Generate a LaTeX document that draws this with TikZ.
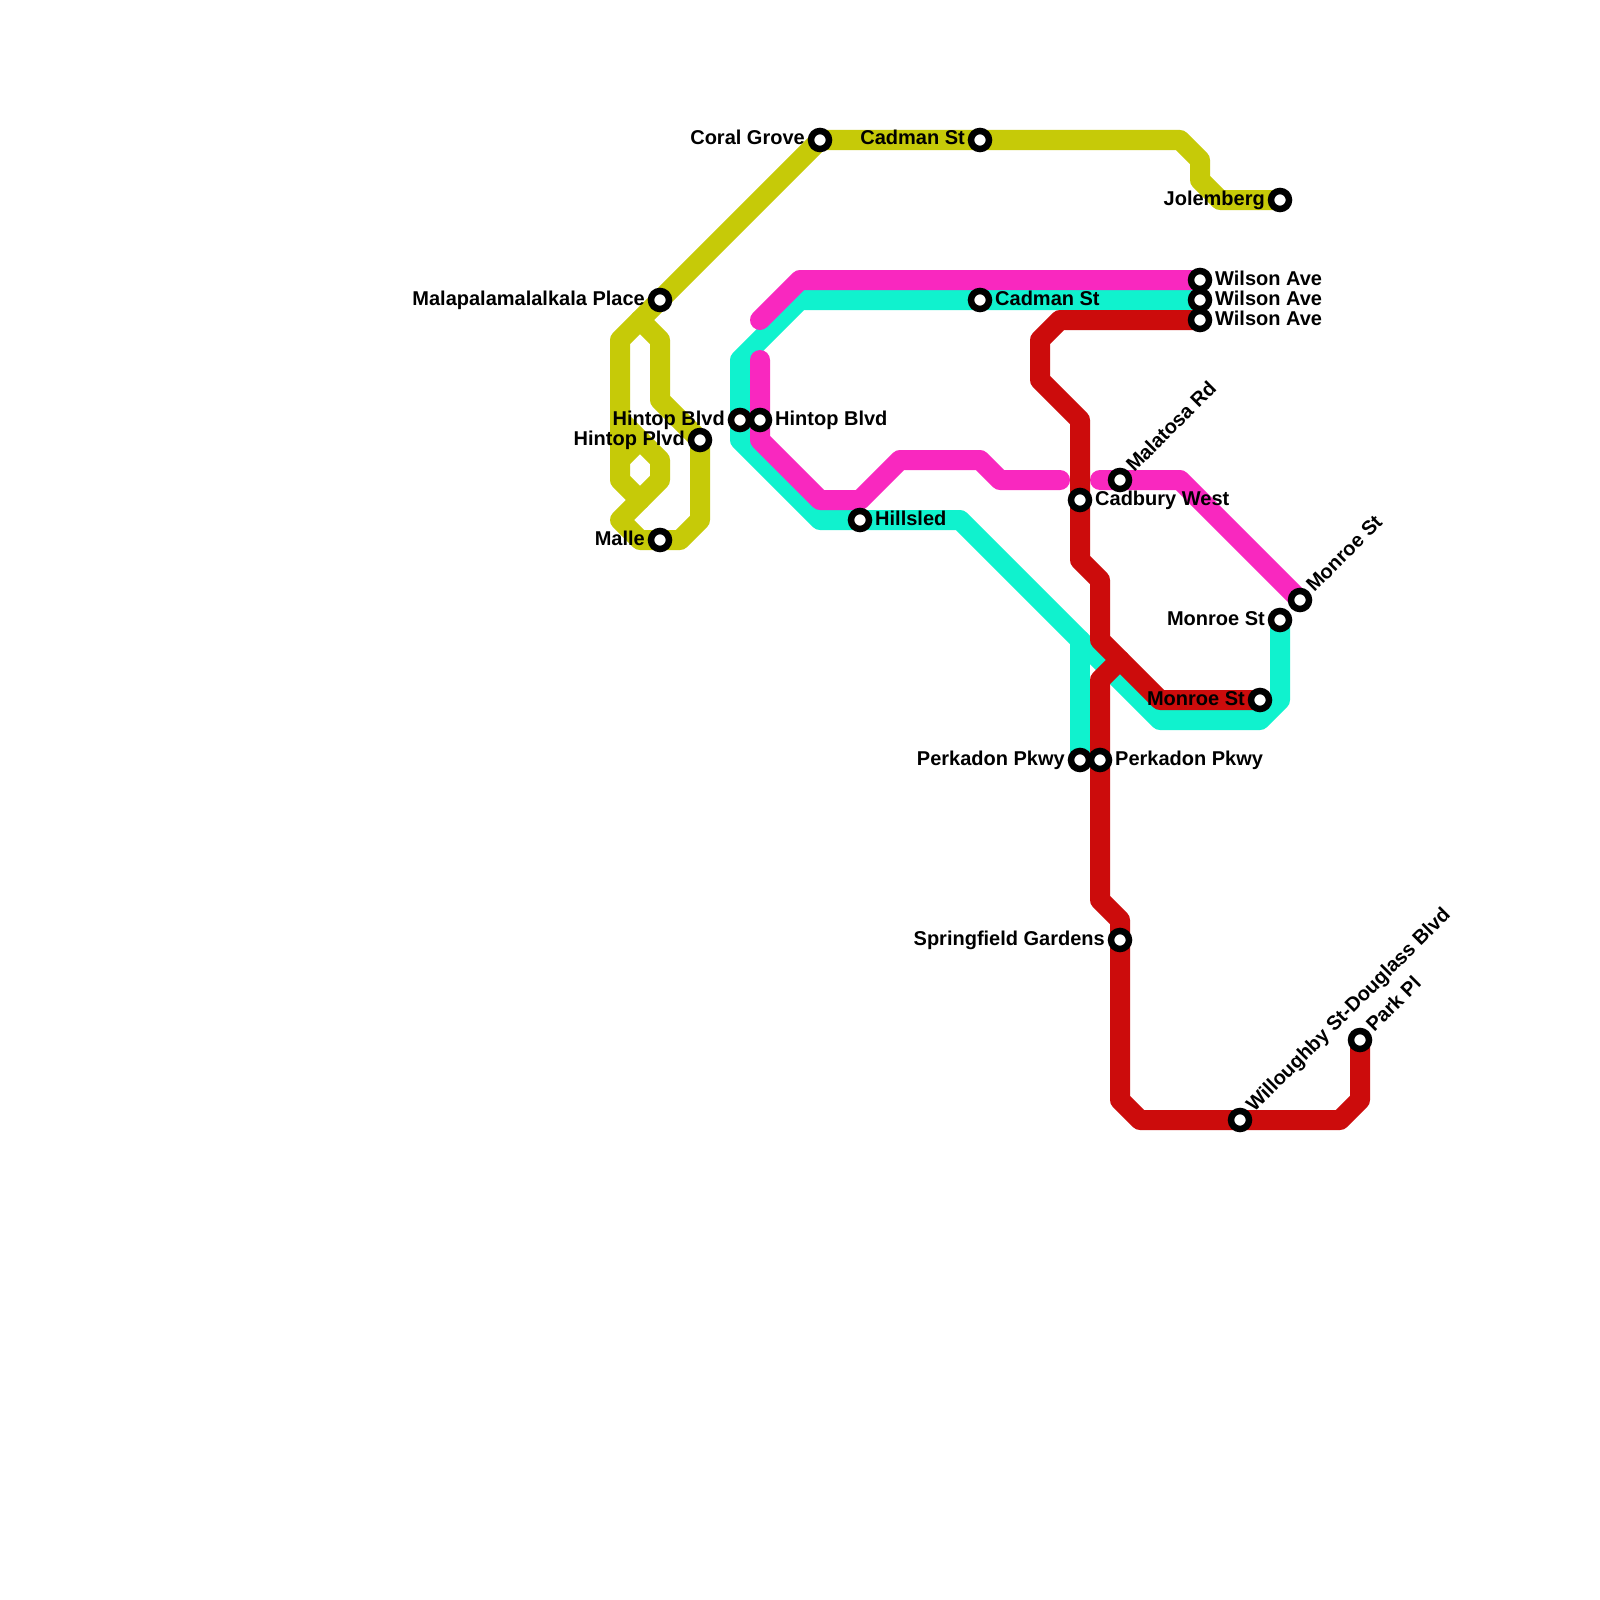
\documentclass[tikz,border=0pt]{standalone}
\usepackage{fontspec}
\setmainfont{Liberation Sans}
\definecolor{yel}{HTML}{C6CA08}
\definecolor{teal2}{HTML}{10F2CE}
\definecolor{mag}{HTML}{F928BF}
\definecolor{redl}{HTML}{CC0C0C}
\tikzset{
  metro/.style={line width=20pt,line join=round,line cap=round},
  stn/.style={circle,draw=black,fill=white,line width=6.5pt,minimum size=18pt,inner sep=0pt},
  lbl/.style={inner sep=0pt,font=\fontsize{20}{24}\selectfont\bfseries,text=black},
  lblR/.style={lbl,anchor=base west,xshift=15pt,yshift=-5pt},
  lblL/.style={lbl,anchor=base east,xshift=-15pt,yshift=-5pt},
  lblD/.style={lbl,anchor=base west,rotate=45,xshift=15pt,yshift=-5pt},
}
\begin{document}
\begin{tikzpicture}[x=1pt,y=-1pt]
\useasboundingbox (0,0) rectangle (1600,1600);
\fill[white] (0,0) rectangle (1600,1600);
% stations (positions first; drawn last)
\coordinate (cCoral) at (820,140);
\coordinate (cCadY) at (980,140);
\coordinate (cJol) at (1280,200);
\coordinate (cMala) at (660,300);
\coordinate (cHPlvd) at (700,440);
\coordinate (cMalle) at (660,540);
\coordinate (cHT) at (740,420);
\coordinate (cHM) at (760,420);
\coordinate (cHill) at (860,520);
\coordinate (cCadT) at (980,300);
\coordinate (cW1) at (1200,280);
\coordinate (cW2) at (1200,300);
\coordinate (cW3) at (1200,320);
\coordinate (cMalat) at (1120,480);
\coordinate (cCadb) at (1080,500);
\coordinate (cMonM) at (1300,600);
\coordinate (cMonT) at (1280,620);
\coordinate (cMonR) at (1260,700);
\coordinate (cPkT) at (1080,760);
\coordinate (cPkR) at (1100,760);
\coordinate (cSpr) at (1120,940);
\coordinate (cWill) at (1240,1120);
\coordinate (cPark) at (1360,1040);
% yellow
\draw[metro,yel] (cJol) -- (1220,200) -- (1200,180) -- (1200,160) -- (1180,140) -- (cCadY) -- (cCoral) -- (cMala) -- (620,340) -- (620,480) -- (640,500);
\draw[metro,yel] (640,320) -- (660,340) -- (660,400) -- (cHPlvd) -- (700,520) -- (680,540) -- (cMalle) -- (640,540) -- (620,520) -- (660,480) -- (660,460) -- (620,420);
\draw[metro,yel] (620,460) -- (640,440);
% teal
\draw[metro,teal2] (cW2) -- (cCadT) -- (800,300) -- (740,360) -- (cHT) -- (740,440) -- (820,520) -- (cHill) -- (960,520) -- (1160,720) -- (1260,720) -- (1280,700) -- (cMonT);
\draw[metro,teal2] (1080,640) -- (cPkT);
% magenta
\draw[metro,mag] (cW1) -- (800,280) -- (760,320);
\draw[metro,mag] (760,360) -- (cHM) -- (760,440) -- (820,500) -- (860,500) -- (900,460) -- (980,460) -- (1000,480) -- (1060,480);
\draw[metro,mag] (1100,480) -- (cMalat) -- (1180,480) -- (cMonM);
% red
\draw[metro,redl] (cW3) -- (1060,320) -- (1040,340) -- (1040,380) -- (1080,420) -- (cCadb) -- (1080,560) -- (1100,580) -- (1100,640) -- (1160,700) -- (cMonR);
\draw[metro,redl] (1120,660) -- (1100,680) -- (cPkR) -- (1100,900) -- (1120,920) -- (cSpr) -- (1120,1100) -- (1140,1120) -- (cWill) -- (1340,1120) -- (1360,1100) -- (cPark);
% station markers
\node[stn] (sCoral) at (cCoral) {};
\node[stn] (sCadY) at (cCadY) {};
\node[stn] (sJol) at (cJol) {};
\node[stn] (sMala) at (cMala) {};
\node[stn] (sHPlvd) at (cHPlvd) {};
\node[stn] (sMalle) at (cMalle) {};
\node[stn] (sHT) at (cHT) {};
\node[stn] (sHM) at (cHM) {};
\node[stn] (sHill) at (cHill) {};
\node[stn] (sCadT) at (cCadT) {};
\node[stn] (sW1) at (cW1) {};
\node[stn] (sW2) at (cW2) {};
\node[stn] (sW3) at (cW3) {};
\node[stn] (sMalat) at (cMalat) {};
\node[stn] (sCadb) at (cCadb) {};
\node[stn] (sMonM) at (cMonM) {};
\node[stn] (sMonT) at (cMonT) {};
\node[stn] (sMonR) at (cMonR) {};
\node[stn] (sPkT) at (cPkT) {};
\node[stn] (sPkR) at (cPkR) {};
\node[stn] (sSpr) at (cSpr) {};
\node[stn] (sWill) at (cWill) {};
\node[stn] (sPark) at (cPark) {};
% labels
\node[lblL] (tCoral) at (cCoral) {Coral Grove};
\node[lblL] (tCadY) at (cCadY) {Cadman St};
\node[lblL] (tJol) at (cJol) {Jolemberg};
\node[lblL] (tMala) at (cMala) {Malapalamalalkala Place};
\node[lblL] (tHPlvd) at (cHPlvd) {Hintop Plvd};
\node[lblL] (tMalle) at (cMalle) {Malle};
\node[lblL] (tHT) at (cHT) {Hintop Blvd};
\node[lblR] (tHM) at (cHM) {Hintop Blvd};
\node[lblR] (tHill) at (cHill) {Hillsled};
\node[lblR] (tCadT) at (cCadT) {Cadman St};
\node[lblR] (tW1) at (cW1) {Wilson Ave};
\node[lblR] (tW2) at (cW2) {Wilson Ave};
\node[lblR] (tW3) at (cW3) {Wilson Ave};
\node[lblD] (tMalat) at (cMalat) {Malatosa Rd};
\node[lblR] (tCadb) at (cCadb) {Cadbury West};
\node[lblD] (tMonM) at (cMonM) {Monroe St};
\node[lblL] (tMonT) at (cMonT) {Monroe St};
\node[lblL] (tMonR) at (cMonR) {Monroe St};
\node[lblL] (tPkT) at (cPkT) {Perkadon Pkwy};
\node[lblR] (tPkR) at (cPkR) {Perkadon Pkwy};
\node[lblL] (tSpr) at (cSpr) {Springfield Gardens};
\node[lblD] (tWill) at (cWill) {Willoughby St-Douglass Blvd};
\node[lblD] (tPark) at (cPark) {Park Pl};
\end{tikzpicture}
\end{document}
